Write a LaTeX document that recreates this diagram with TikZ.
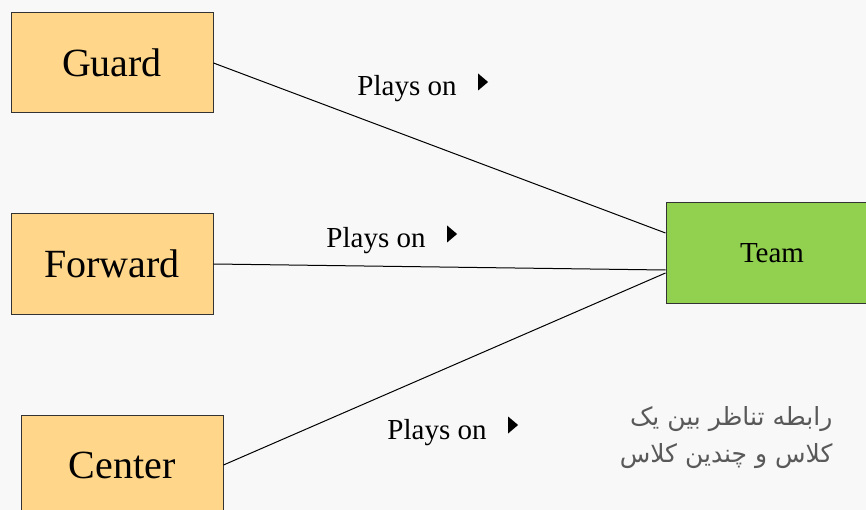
\documentclass[tikz,border=0pt]{standalone}
\usepackage{fontspec}
\setmainfont{Liberation Serif}
\newfontfamily\arabicfont[Script=Arabic]{DejaVu Sans}
\TeXXeTstate=1
\usepackage{tikz}
\usetikzlibrary{shapes.geometric}
\definecolor{bgcol}{HTML}{F8F8F8}
\definecolor{playercol}{HTML}{FFD68A}
\definecolor{teamcol}{HTML}{92D050}
\definecolor{notecol}{HTML}{595959}

\begin{document}
\begin{tikzpicture}[x=1pt,y=-1pt,
	player/.style={draw=black!80,line width=1pt,fill=playercol,minimum width=202pt,minimum height=100pt,font=\fontsize{40}{48}\selectfont},
	team/.style={draw=black!80,line width=1pt,fill=teamcol,minimum width=212pt,minimum height=100pt,font=\fontsize{29}{34}\selectfont},
	role/.style={font=\fontsize{29}{34}\selectfont,inner sep=0pt},
	tip/.style={isosceles triangle,isosceles triangle stretches,fill=black,inner sep=0pt,minimum width=17pt,minimum height=10pt}]
    \fill[bgcol] (0,0) rectangle (866,510);
    \useasboundingbox (0,0) rectangle (866,510);
    \begin{scope}
    \clip (0,0) rectangle (866,510);
    \node[player] (guard) at (112,63) {Guard};
    \node[player] (fwd) at (112,264) {Forward};
    \node[player] (ctr) at (122,465) {Center};
    \node[team] (team) at (772,253) {Team};
    \end{scope}
    \draw[line width=1pt] (guard.east) -- ([yshift=20pt]team.west);
    \draw[line width=1pt] (fwd.east) -- ([yshift=-17pt]team.west);
    \draw[line width=1pt] (ctr.east) -- ([yshift=-20pt]team.west);
    \node[role] (lab1) at (407,89) {Plays on};
    \node[tip] (tip1) at (482,82) {};
    \node[role] (lab2) at (376,241) {Plays on};
    \node[tip] (tip2) at (451,234) {};
    \node[role] (lab3) at (437,433) {Plays on};
    \node[tip] (tip3) at (512,425) {};
    \node[align=right,anchor=north east,text=notecol,font=\arabicfont\fontsize{25}{37}\selectfont] (note) at (836,403)
      {\beginR رابطه تناظر بین یک\endR\\ \beginR کلاس و چندین کلاس\endR};
\end{tikzpicture}
\end{document}
